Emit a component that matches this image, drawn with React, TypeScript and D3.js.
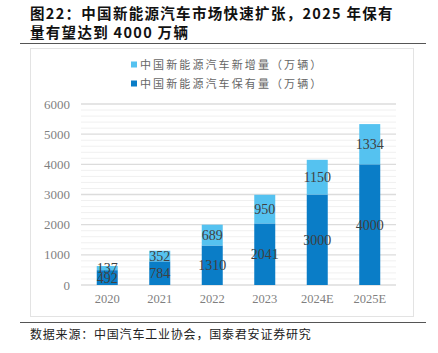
import { useMemo } from "react";
import * as d3 from "d3";

const WIDTH = 438;
const HEIGHT = 353;

const years = ["2020", "2021", "2022", "2023", "2024E", "2025E"];
const stockValues = [492, 784, 1310, 2041, 3000, 4000]; // 保有量
const newValues = [137, 352, 689, 950, 1150, 1334]; // 新增量
const yTicks = [0, 1000, 2000, 3000, 4000, 5000, 6000];
const seriesNames = ["中国新能源汽车新增量（万辆）", "中国新能源汽车保有量（万辆）"];

const DARK = "#0A7DC7";
const LIGHT = "#55C2F0";
const SERIF = "'Liberation Serif', 'Times New Roman', serif";
const CJK = "'Noto Sans CJK SC', sans-serif";

export default function App() {
  const margin = { left: 81, right: 42, top: 104, bottom: 68 };

  const { x, y, minorTicks } = useMemo(() => {
    const x = d3
      .scaleBand()
      .domain(years)
      .range([margin.left, WIDTH - margin.right])
      .paddingInner(0.6)
      .paddingOuter(0.3);
    const y = d3
      .scaleLinear()
      .domain([0, 6000])
      .range([HEIGHT - margin.bottom, margin.top]);
    const minorTicks = d3.range(0, 6000, 200).filter((v) => v % 1000 !== 0);
    return { x, y, minorTicks };
  }, []);

  return (
    <svg
      width={WIDTH}
      height={HEIGHT}
      style={{ position: "absolute", left: 0, top: 0, background: "#fff" }}
    >
      {/* title */}
      <text x={30} y={18.5} fontFamily={CJK} fontWeight="bold" fontSize={14.5} fill="#111" letterSpacing={1.3}>
        图22：中国新能源汽车市场快速扩张，2025 年保有
      </text>
      <text x={30} y={37.5} fontFamily={CJK} fontWeight="bold" fontSize={14.5} fill="#111" letterSpacing={1.3}>
        量有望达到 4000 万辆
      </text>
      <line x1={20} x2={426} y1={43.5} y2={43.5} stroke="#555" strokeWidth={1.2} />

      {/* chart frame */}
      <rect x={30.5} y={48.5} width={383} height={268} fill="none" stroke="#E3E3E3" />

      {/* legend */}
      {seriesNames.map((name, i) => (
        <g key={name} transform={`translate(131,${65 + i * 19})`}>
          <rect x={0} y={-3.5} width={6} height={6} fill={i === 0 ? LIGHT : DARK} />
          <text x={9} y={4} fontFamily={CJK} fontSize={11} fill="#666" letterSpacing={2.1}>
            {name}
          </text>
        </g>
      ))}

      {/* gridlines */}
      {minorTicks.map((t) => (
        <line
          key={`m${t}`}
          x1={margin.left}
          x2={WIDTH - margin.right}
          y1={y(t)}
          y2={y(t)}
          stroke="#F0F0F0"
        />
      ))}
      {yTicks.map((t) => (
        <g key={t}>
          <line
            x1={margin.left}
            x2={WIDTH - margin.right}
            y1={y(t)}
            y2={y(t)}
            stroke="#DCDCDC"
            strokeWidth={1.3}
          />
          <text
            x={70}
            y={y(t) + 4.5}
            textAnchor="end"
            fontFamily={SERIF}
            fontSize={13}
            fill="#7F7F7F"
          >
            {t}
          </text>
        </g>
      ))}

      {/* bars */}
      {years.map((yr, i) => {
        const x0 = x(yr)!;
        const bw = x.bandwidth();
        const s = stockValues[i];
        const n = newValues[i];
        return (
          <g key={yr}>
            <rect x={x0} y={y(s)} width={bw} height={y(0) - y(s)} fill={DARK} />
            <rect x={x0} y={y(s + n)} width={bw} height={y(s) - y(s + n)} fill={LIGHT} />
            <text
              x={x0 + bw / 2}
              y={y(s / 2) + 5}
              textAnchor="middle"
              fontFamily={SERIF}
              fontSize={14}
              fill="#404040"
            >
              {s}
            </text>
            <text
              x={x0 + bw / 2}
              y={y(s + n / 2) + 5}
              textAnchor="middle"
              fontFamily={SERIF}
              fontSize={14}
              fill="#404040"
            >
              {n}
            </text>
            <text
              x={x0 + bw / 2}
              y={303}
              textAnchor="middle"
              fontFamily={SERIF}
              fontSize={12.5}
              fill="#7F7F7F"
            >
              {yr}
            </text>
          </g>
        );
      })}

      {/* source */}
      <line x1={20} x2={426} y1={322.5} y2={322.5} stroke="#555" strokeWidth={1.2} />
      <text x={30} y={339} fontFamily={CJK} fontSize={12} fill="#222" letterSpacing={0.8}>
        数据来源：中国汽车工业协会，国泰君安证券研究
      </text>
    </svg>
  );
}
